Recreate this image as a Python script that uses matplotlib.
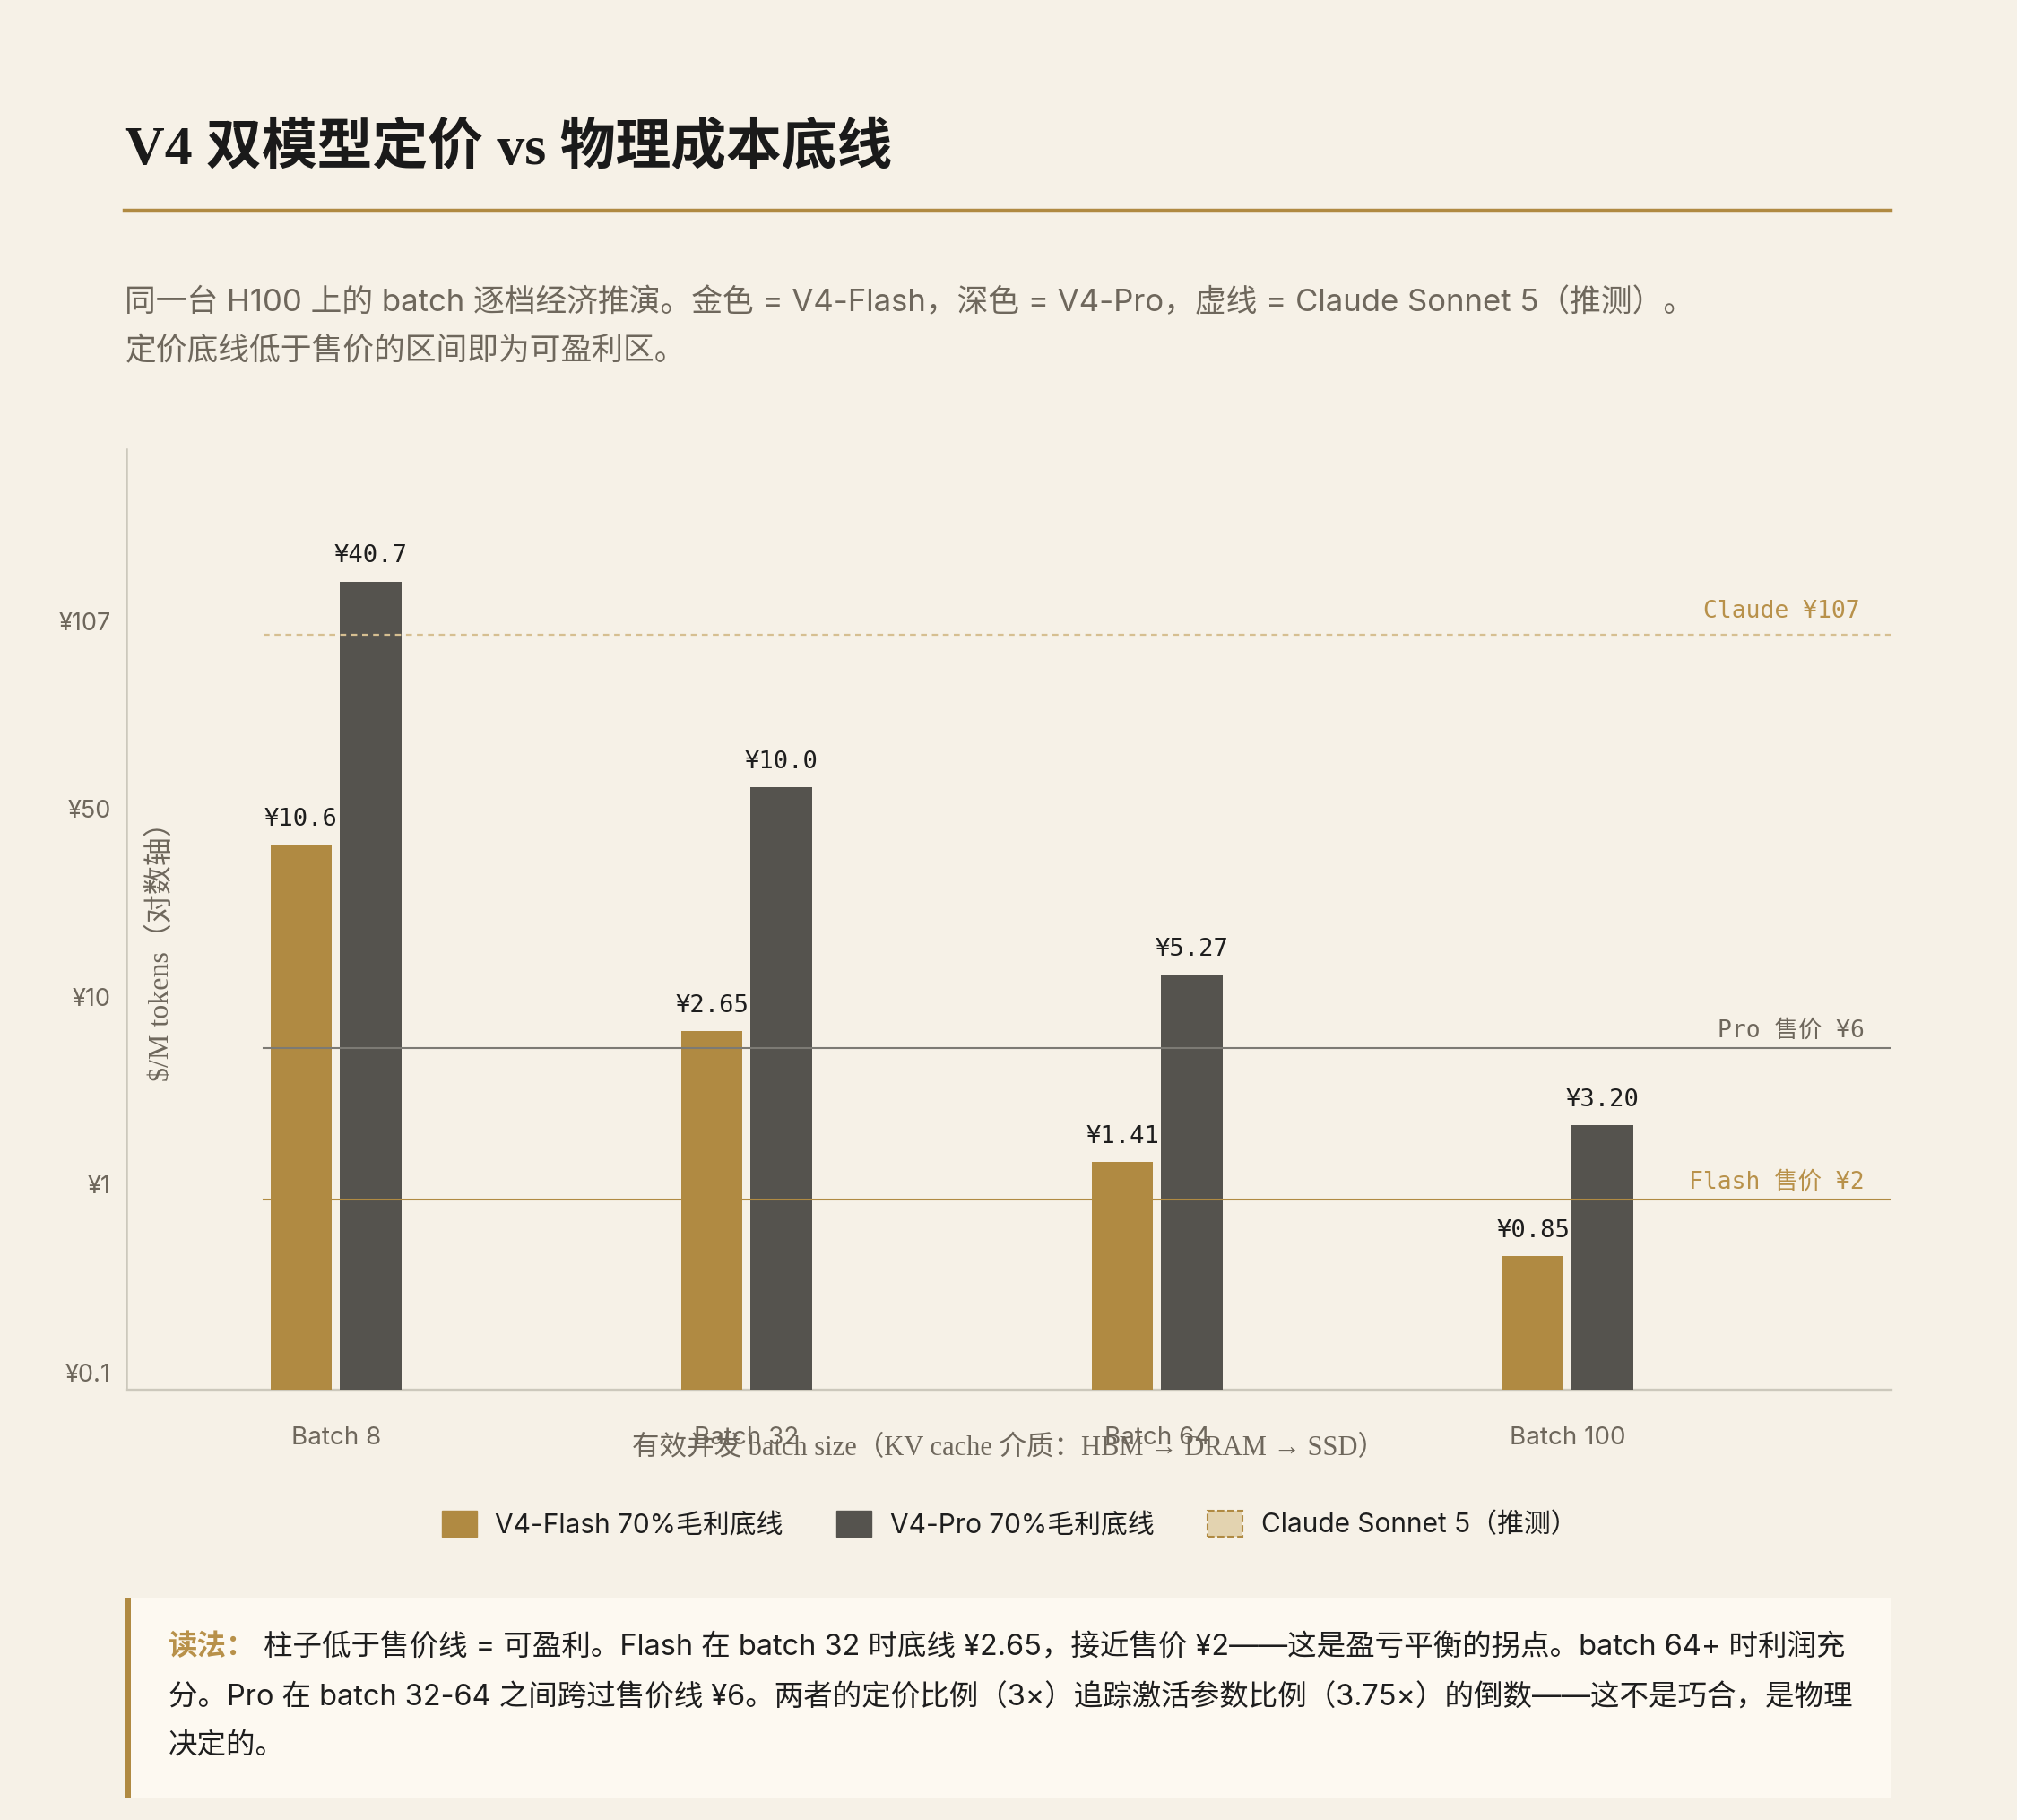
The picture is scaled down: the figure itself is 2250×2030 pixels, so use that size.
import matplotlib
matplotlib.use('Agg')
import matplotlib.pyplot as plt
from matplotlib.patches import Patch, Rectangle
from matplotlib.lines import Line2D

plt.rcParams['font.family'] = ['Inter', 'Noto Sans CJK SC', 'DejaVu Sans']

# data
batches = ['Batch 8', 'Batch 32', 'Batch 64', 'Batch 100']
flash_labels = ['¥10.6', '¥2.65', '¥1.41', '¥0.85']
pro_labels = ['¥40.7', '¥10.0', '¥5.27', '¥3.20']
# bar heights in axis units (one tick step = 1, ¥0.1 tick = 0)
flash_h = [2.81, 1.815, 1.119, 0.619]
pro_h = [4.21, 3.114, 2.116, 1.314]
ytick_labels = ['¥0.1', '¥1', '¥10', '¥50', '¥107']
claude_y = 3.927
pro_price_y = 1.725
flash_price_y = 0.920

BG = '#f6f1e7'
GOLD = '#b08a42'
DARK = '#55534e'
GRAY = '#6e675c'
MONO = ['DejaVu Sans Mono', 'Noto Sans CJK SC']
SERIF = ['Liberation Serif', 'Noto Sans CJK SC']

fig = plt.figure(figsize=(22.5, 20.3), dpi=100, facecolor=BG)
ax = fig.add_axes([0.0625, 0.2366, 0.875, 0.5168])
ax.set_facecolor(BG)

x = list(range(len(batches)))
w = 0.150
off = 0.0846
base = -0.090
fx = [i - off for i in x]
px = [i + off for i in x]
ax.bar(fx, [h - base for h in flash_h], w, bottom=base, color=GOLD, zorder=3)
ax.bar(px, [h - base for h in pro_h], w, bottom=base, color=DARK, zorder=3)

for xi, h, t in zip(fx, flash_h, flash_labels):
    ax.annotate(t, (xi, h), xytext=(0, 11), textcoords='offset points',
                ha='center', va='bottom', fontsize=19.5, family=MONO, color='#1e1e1e', zorder=5)
for xi, h, t in zip(px, pro_h, pro_labels):
    ax.annotate(t, (xi, h), xytext=(0, 11), textcoords='offset points',
                ha='center', va='bottom', fontsize=19.5, family=MONO, color='#1e1e1e', zorder=5)

xl = (-0.511, 3.787)
x0 = -0.176
ax.plot([x0, xl[1]], [claude_y, claude_y], ls=(0, (3, 2.5)), color='#d6bf91', lw=1.6, zorder=4)
ax.plot([x0, xl[1]], [pro_price_y, pro_price_y], color='#7c7a74', lw=1.5, zorder=4)
ax.plot([x0, xl[1]], [flash_price_y, flash_price_y], color=GOLD, lw=1.5, zorder=4)
xr = 3.712
ax.text(xr, claude_y + 0.06, 'Claude ¥107', ha='right', va='bottom', fontsize=19, family=MONO, color='#b8914a')
ax.text(xr + 0.01, pro_price_y + 0.03, 'Pro 售价 ¥6', ha='right', va='bottom', fontsize=19, family=MONO, color=GRAY)
ax.text(xr + 0.01, flash_price_y + 0.03, 'Flash 售价 ¥2', ha='right', va='bottom', fontsize=19, family=MONO, color='#b8914a')

ax.set_xlim(*xl)
ax.set_ylim(base, 4.916)
ax.set_yticks(range(len(ytick_labels)))
ax.set_yticklabels(ytick_labels, fontsize=19.5, color=GRAY)
ax.set_xticks(x)
ax.set_xticklabels(batches, fontsize=20, color=GRAY)
ax.tick_params(axis='y', length=0, pad=12)
ax.tick_params(axis='x', length=0, pad=30)
for s in ['top', 'right']:
    ax.spines[s].set_visible(False)
ax.spines['left'].set_color('#ccc8bc')
ax.spines['bottom'].set_color('#ccc8bc')
ax.spines['left'].set_linewidth(1.8)
ax.spines['bottom'].set_linewidth(2.4)

ax.text(0.0197, 0.4726, '$/M tokens（对数轴）', transform=ax.transAxes, rotation=90,
        ha='center', va='center', fontsize=23, family=SERIF, color=GRAY)
ax.text(0.5, -0.063, '有效并发 batch size（KV cache 介质：HBM → DRAM → SSD）', transform=ax.transAxes,
        ha='center', va='center', fontsize=22, family=SERIF, color=GRAY)

# title + rule + subtitle
fig.text(0.0619, 0.9180, 'V4 双模型定价 vs 物理成本底线', fontsize=44.5, fontweight='bold',
         family=['Liberation Serif', 'Noto Sans CJK SC'], color='#1a1a1a', va='center', ha='left')
fig.add_artist(Line2D([0.0619, 0.9375], [0.8841, 0.8841], color=GOLD, lw=3.2))
fig.text(0.0619, 0.8339, '同一台 H100 上的 batch 逐档经济推演。金色 = V4-Flash，深色 = V4-Pro，虚线 = Claude Sonnet 5（推测）。',
         fontsize=25, color=GRAY, va='center', ha='left')
fig.text(0.0619, 0.8071, '定价底线低于售价的区间即为可盈利区。', fontsize=25, color=GRAY, va='center', ha='left')

# legend
handles = [Patch(facecolor=GOLD, edgecolor=GOLD),
           Patch(facecolor=DARK, edgecolor=DARK),
           Patch(facecolor='#e3d3b0', edgecolor=GOLD, linestyle='--', linewidth=1.5)]
labels = ['V4-Flash 70%毛利底线', 'V4-Pro 70%毛利底线', 'Claude Sonnet 5（推测）']
fig.legend(handles, labels, loc='center', bbox_to_anchor=(0.5005, 0.1625), ncol=3, frameon=False,
           fontsize=21.5, handlelength=1.3, handleheight=1.1, handletextpad=0.69, columnspacing=2.0,
           labelcolor='#1e1e1e')

# reading note box
fig.add_artist(Rectangle((0.0619, 0.0120), 0.8756, 0.1102, transform=fig.transFigure,
                         facecolor='#fdf9f1', edgecolor='none'))
fig.add_artist(Rectangle((0.0619, 0.0120), 0.0032, 0.1102, transform=fig.transFigure,
                         facecolor=GOLD, edgecolor='none'))
fig.text(0.0835, 0.0947, '读法：', fontsize=23.4, fontweight='bold', color='#b8914a', va='center', ha='left')
fig.text(0.1307, 0.0947, '柱子低于售价线 = 可盈利。Flash 在 batch 32 时底线 ¥2.65，接近售价 ¥2——这是盈亏平衡的拐点。batch 64+ 时利润充',
         fontsize=23.4, color='#1e1e1e', va='center', ha='left')
fig.text(0.0835, 0.0671, '分。Pro 在 batch 32-64 之间跨过售价线 ¥6。两者的定价比例（3×）追踪激活参数比例（3.75×）的倒数——这不是巧合，是物理',
         fontsize=23.4, color='#1e1e1e', va='center', ha='left')
fig.text(0.0835, 0.0403, '决定的。', fontsize=23.4, color='#1e1e1e', va='center', ha='left')

fig.savefig('out.png', dpi=100, facecolor=BG)
